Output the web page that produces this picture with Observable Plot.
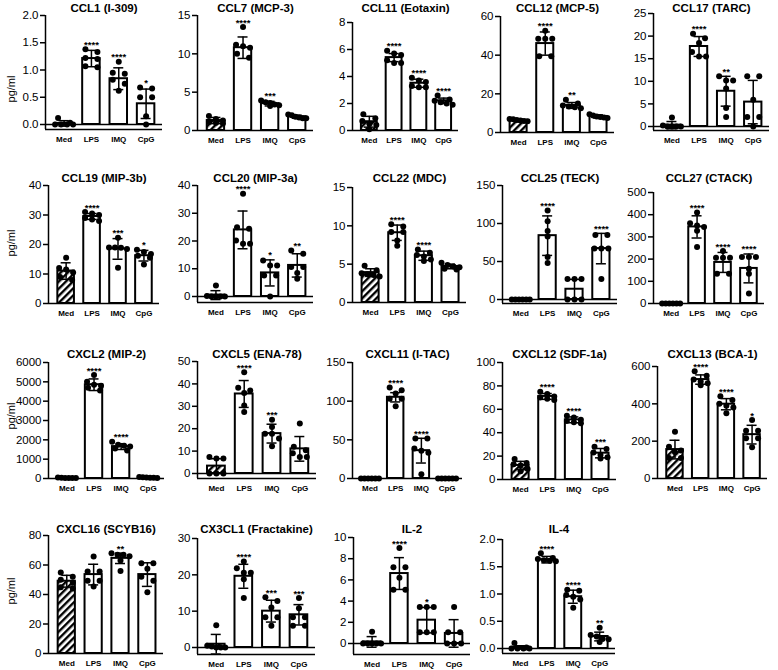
<!DOCTYPE html>
<html><head><meta charset="utf-8">
<script src="https://cdn.jsdelivr.net/npm/d3@7"></script>
<script src="https://cdn.jsdelivr.net/npm/@observablehq/plot@0.6"></script>
<style>
body{margin:0;background:#fff;}
#root{position:relative;width:778px;height:670px;overflow:hidden;font-family:"Liberation Sans",Arial,sans-serif;color:#000;}
.panel{position:absolute;}
.ylab{position:absolute;font-size:11px;transform:translate(-50%,-50%) rotate(-90deg);white-space:nowrap;}
svg [aria-label^="y-axis"] line, svg [aria-label^="y-axis"] path {stroke-width:1.5px;}
svg [aria-label^="x-axis"] text {font-size:8px;font-weight:bold;}
</style>
</head><body>
<svg width="0" height="0" style="position:absolute"><defs>
<pattern id="hatch" patternUnits="userSpaceOnUse" width="5" height="5" patternTransform="rotate(45)">
<rect width="5" height="5" fill="white"/><rect width="2.4" height="5" fill="black"/>
</pattern></defs></svg>
<div id="root"></div>
<script>
const groups = ["Med", "LPS", "IMQ", "CpG"];
const titles = ["CCL1 (I-309)", "CCL7 (MCP-3)", "CCL11 (Eotaxin)", "CCL12 (MCP-5)", "CCL17 (TARC)",
  "CCL19 (MIP-3b)", "CCL20 (MIP-3a)", "CCL22 (MDC)", "CCL25 (TECK)", "CCL27 (CTACK)",
  "CXCL2 (MIP-2)", "CXCL5 (ENA-78)", "CXCL11 (I-TAC)", "CXCL12 (SDF-1a)", "CXCL13 (BCA-1)",
  "CXCL16 (SCYB16)", "CX3CL1 (Fractakine)", "IL-2", "IL-4"];
const yTicks = [
  [0, 0.5, 1, 1.5, 2], [0, 5, 10, 15], [0, 2, 4, 6, 8], [0, 20, 40, 60], [0, 5, 10, 15, 20, 25],
  [0, 10, 20, 30, 40], [0, 10, 20, 30, 40], [0, 5, 10, 15], [0, 50, 100, 150], [0, 100, 200, 300, 400, 500],
  [0, 1000, 2000, 3000, 4000, 5000, 6000], [0, 10, 20, 30, 40, 50], [0, 50, 100, 150], [0, 20, 40, 60, 80, 100], [0, 200, 400, 600],
  [0, 20, 40, 60, 80], [0, 10, 20, 30], [0, 2, 4, 6, 8, 10], [0, 0.5, 1, 1.5, 2]];
const decimalTicks = [0, 18];
const means = [
  [0.02, 1.21, 0.84, 0.38], [1.3, 10.8, 3.5, 1.8], [0.65, 5.4, 3.5, 2.2], [6.3, 46, 14, 8.3], [0.3, 17.7, 7.8, 5.4],
  [11, 29.5, 18.5, 16.2], [0.5, 24, 8.5, 11.2], [3.9, 9.1, 6.1, 4.7], [0, 84, 13.5, 67], [0, 345, 185, 158],
  [40, 4850, 1650, 50], [3.3, 35.5, 17.8, 11], [0, 105, 36, 0], [12, 71, 51, 22.5], [155, 530, 398, 235],
  [49, 53.5, 64.5, 53.5], [0.9, 19.6, 10, 9], [0.15, 6.6, 2.2, 0.95], [0.02, 1.63, 0.95, 0.22]];
const sds = [
  [0.05, 0.15, 0.2, 0.27], [0.4, 1.4, 0.3, 0.2], [0.4, 0.3, 0.3, 0.2], [0.6, 6, 1.5, 0.8], [0.8, 2.2, 3.3, 4.8],
  [2.8, 1, 3.5, 1.8], [1.6, 6.8, 4.7, 4.2], [0.5, 1, 0.6, 0.3], [0, 26, 13, 20], [0, 50, 45, 65],
  [20, 300, 150, 20], [3.3, 6, 4.2, 5.5], [0, 6, 16, 0], [3.5, 2.5, 2.5, 4], [50, 25, 30, 50],
  [4, 7, 3.5, 8], [2.7, 3.3, 3, 2.8], [0.5, 1.5, 1.2, 1.3], [0.03, 0.06, 0.12, 0.08]];
const points = [
  [[0.12, 0.03, 0, 0, 0, 0], [1.38, 1.33, 1.22, 1.2, 1.07, 1.05], [1.15, 0.95, 0.93, 0.82, 0.75, 0.62], [0.68, 0.66, 0.5, 0.5, 0.15, 0]],
  [[1.9, 1.5, 1.3, 1.1, 1.0, 0.9], [13.5, 11.2, 11.0, 10.8, 10.0, 9.5], [3.9, 3.7, 3.6, 3.4, 3.3, 3.2], [2.1, 2.0, 1.8, 1.7, 1.6, 1.6]],
  [[1.2, 0.9, 0.7, 0.5, 0.4, 0.1], [5.9, 5.7, 5.6, 5.2, 5.0, 5.0], [3.9, 3.7, 3.6, 3.3, 3.2, 3.2], [2.6, 2.3, 2.2, 2.1, 2.0, 1.9]],
  [[7.0, 6.8, 6.5, 6.2, 6.0, 5.8], [52.6, 48.5, 48.5, 48.5, 39.5, 39.5], [17, 15, 14, 13.5, 13, 12.5], [9.5, 8.8, 8.3, 8.0, 7.8, 7.5]],
  [[2.0, 0.2, 0, 0, 0, 0], [20.5, 19.5, 18.5, 16.5, 15.5, 15.5], [11.1, 10.2, 10.2, 8.4, 4.1, 2.1], [11.1, 11.1, 5.9, 2.1, 2.1, 0]],
  [[15.5, 12, 11.5, 10.5, 9, 8], [31, 30.5, 30, 29, 28.5, 28], [22.3, 19, 19, 18.9, 18.5, 12.1], [18.2, 17.5, 16.8, 16.2, 15.5, 13.2]],
  [[4, 0.2, 0, 0, 0, 0], [37, 25, 24.4, 20.2, 19, 19], [13, 11.2, 11.2, 7.6, 7.6, 0], [16.6, 15.4, 10.6, 10.6, 8.5, 6.4]],
  [[4.8, 4.2, 3.8, 3.7, 3.6, 3.4], [10.2, 9.9, 9.2, 9.2, 8.1, 7.4], [6.9, 6.5, 6.2, 6.0, 5.6, 5.4], [5.2, 4.9, 4.7, 4.6, 4.4, 4.3]],
  [[0, 0, 0, 0, 0, 0], [117, 103, 90, 83, 56, 48], [27, 27, 27, 0, 0, 0], [85, 85, 67, 67, 67, 27]],
  [[0, 0, 0, 0, 0, 0], [410, 361, 351, 345, 328, 254], [236, 206, 206, 206, 134, 134], [209, 209, 209, 157, 134, 45]],
  [[50, 40, 30, 30, 20, 20], [5350, 5000, 4850, 4800, 4700, 4550], [1900, 1750, 1700, 1650, 1550, 1450], [80, 60, 50, 40, 40, 30]],
  [[7.4, 6.7, 6.7, 0, 0, 0], [45.2, 38.3, 37.1, 35.9, 30.4, 27.4], [24, 20.8, 17.8, 17.8, 15.6, 12.2], [22.3, 11.9, 10.4, 9, 7.4, 7.4]],
  [[0, 0, 0, 0, 0, 0], [117.7, 114, 110, 103, 103, 93.5], [51.7, 51.7, 38.8, 36, 33.2, 5.6], [0, 0, 0, 0, 0, 0]],
  [[17.5, 14, 13, 12, 9, 7], [75, 73, 71, 70, 69, 68], [54.5, 53, 51, 50, 49, 48], [28, 26, 23, 21, 19, 18]],
  [[250, 170, 150, 140, 110, 110], [575, 550, 530, 520, 510, 500], [440, 420, 400, 390, 380, 350], [313, 256, 256, 215, 215, 167]],
  [[55, 52, 50, 48, 45, 44], [65.8, 55.6, 55.6, 49.4, 49.4, 45.4], [68, 67, 67, 66, 63, 56], [61.2, 61.2, 57.4, 52, 49.4, 41.5]],
  [[6.1, 0.5, 0.3, 0, 0, 0], [23.7, 21.8, 20.6, 20.6, 18.8, 13.6], [13.8, 12.8, 11, 8.3, 8.3, 6], [13.6, 10.8, 8.3, 8.3, 6, 6]],
  [[1.1, 0, 0, 0, 0, 0], [9, 7.2, 7.2, 6.2, 5.06, 5.06], [3.45, 3.45, 3.45, 1.05, 1.05, 1.05], [3.45, 1.05, 1.05, 0, 0, 0]],
  [[0.1, 0.02, 0, 0, 0, 0], [1.75, 1.66, 1.64, 1.62, 1.61, 1.6], [1.08, 1.06, 0.98, 0.95, 0.9, 0.75], [0.38, 0.25, 0.22, 0.18, 0.17, 0.12]]];
const stars = [
  ["", "****", "****", "*"], ["", "****", "***", ""], ["", "****", "****", "****"], ["", "****", "**", ""], ["", "****", "**", ""],
  ["", "****", "***", "*"], ["", "****", "*", "**"], ["", "****", "****", ""], ["", "****", "", "****"], ["", "****", "****", "****"],
  ["", "****", "****", ""], ["", "****", "***", ""], ["", "****", "****", ""], ["", "****", "****", "***"], ["", "****", "****", "*"],
  ["", "", "**", ""], ["", "****", "***", "***"], ["", "****", "*", ""], ["", "****", "****", "**"]];

// layout (pixels): y-axis x, top tick y, zero y, bottom axis y, right end x
const axisX = [45, 197, 352, 500, 653, 48, 197, 352, 502, 653, 48, 197, 352, 502, 657, 48, 197, 353, 502];
const topY = [15, 15, 22, 16, 13, 185, 185, 187, 185, 192, 362, 361, 362, 362, 366, 535, 538, 537, 539];
const zeroY = [124, 130, 130, 132, 126, 303, 296, 302, 299, 303, 478, 473, 478, 479, 478, 653, 647, 643, 648];
const bottomY = [129, 130, 130, 132, 130, 303, 302, 302, 303, 303, 478, 478, 478, 479, 478, 653, 654, 654, 653];
const rightX = [162, 313, 458, 614, 769, 159, 313, 466, 617, 764, 164, 316, 462, 616, 767, 163, 315, 470, 615];
const titleY = [7.5, 178, 354, 528.5];
const ylabY = [89, 243, 416, 591];

const root = document.getElementById("root");
const xd = [-0.68, 3.6];

function dodge(vals, yS, pxPerX) {
  const items = vals.map(v => ({v, py: yS(v)}));
  items.sort((a, b) => a.py - b.py);
  const clusters = [];
  for (const it of items) {
    const c = clusters[clusters.length - 1];
    if (c && it.py - c[0].py < 5) c.push(it); else clusters.push([it]);
  }
  for (const c of clusters) {
    const n = c.length;
    const s = n === 2 ? 12 : Math.min(7, 18 / Math.max(1, n - 1));
    c.forEach((it, k) => it.off = (k - (n - 1) / 2) * s / pxPerX);
  }
  return items;
}

titles.forEach((title, p) => {
  const ax = axisX[p], top = topY[p], zero = zeroY[p], bottom = bottomY[p], right = rightX[p];
  const ticks = yTicks[p];
  const ymax = ticks[ticks.length - 1];
  const ymin = bottom > zero ? -(bottom - zero) / (zero - top) * ymax : 0;
  const mL = 40, mR = 6, mT = 24, mB = 24;
  const W = right - ax + mL + mR, H = bottom - top + mT + mB;
  const yS = d3.scaleLinear([ymin, ymax], [H - mB, mT]);
  const pxPerX = (right - ax) / (xd[1] - xd[0]);
  const bars = groups.map((g, i) => ({
    i, g, mean: means[p][i], sd: sds[p][i], star: stars[p][i],
    top: Math.max(means[p][i] + sds[p][i], d3.max(points[p][i]))
  }));
  const dots = [];
  groups.forEach((g, i) => {
    dodge(points[p][i], yS, pxPerX).forEach(d => dots.push({x: i + d.off, v: d.v}));
  });
  const err = bars.filter(d => d.sd > 0);
  const caps = err.flatMap(d => [{i: d.i, y: d.mean - d.sd}, {i: d.i, y: d.mean + d.sd}]);
  const cw = 5 / pxPerX;
  const row = Math.floor(p / 5);
  const fmt = decimalTicks.includes(p) ? d3.format(".1f") : d3.format("d");
  const marks = [
    Plot.rectY(bars.filter(d => d.i === 0), {x1: d => d.i - 0.32, x2: d => d.i + 0.32, y1: 0, y2: "mean", fill: "url(#hatch)", stroke: "black", strokeWidth: 2}),
    Plot.rectY(bars.filter(d => d.i > 0), {x1: d => d.i - 0.32, x2: d => d.i + 0.32, y1: 0, y2: "mean", fill: "white", stroke: "black", strokeWidth: 2}),
    Plot.ruleX(err, {x: "i", y1: d => d.mean - d.sd, y2: d => d.mean + d.sd, stroke: "black", strokeWidth: 1.5}),
    Plot.ruleY(caps, {y: "y", x1: d => d.i - cw, x2: d => d.i + cw, stroke: "black", strokeWidth: 1.5}),
    Plot.dot(dots, {x: "x", y: "v", r: 3, fill: "black", stroke: "none"}),
    Plot.text(bars.filter(d => d.star), {x: "i", y: "top", text: "star", lineAnchor: "bottom", dy: -1.5, fontSize: 9.5, fontWeight: "bold", fill: "black"}),
    Plot.text([title], {text: d => d, frameAnchor: "top", lineAnchor: "middle", dy: titleY[row] - top, fontSize: 11.5, fontWeight: "bold", fill: "black"}),
    Plot.ruleX([xd[0]], {stroke: "black", strokeWidth: 1.5}),
    Plot.ruleY([ymin], {stroke: "black", strokeWidth: 1.5})
  ];
  if (ymin < 0) marks.push(Plot.ruleY([0], {stroke: "black", strokeWidth: 1.5}));
  const chart = Plot.plot({
    width: W, height: H,
    marginLeft: mL, marginRight: mR, marginTop: mT, marginBottom: mB,
    style: {background: "transparent", fontFamily: "Liberation Sans, Arial, sans-serif", fontSize: "11.5px", color: "black", overflow: "visible", maxWidth: "none"},
    x: {domain: xd, ticks: [0, 1, 2, 3], tickFormat: i => groups[i], tickSize: 0, tickPadding: 7, label: null},
    y: {domain: [ymin, ymax], ticks: ticks, tickFormat: fmt, tickSize: 5, tickPadding: 2, label: null},
    marks
  });
  const div = document.createElement("div");
  div.className = "panel";
  div.style.left = (ax - mL) + "px";
  div.style.top = (top - mT) + "px";
  div.appendChild(chart);
  root.appendChild(div);
});

ylabY.forEach(y => {
  const d = document.createElement("div");
  d.className = "ylab";
  d.style.left = "11px";
  d.style.top = y + "px";
  d.textContent = "pg/ml";
  root.appendChild(d);
});
</script>
</body></html>
